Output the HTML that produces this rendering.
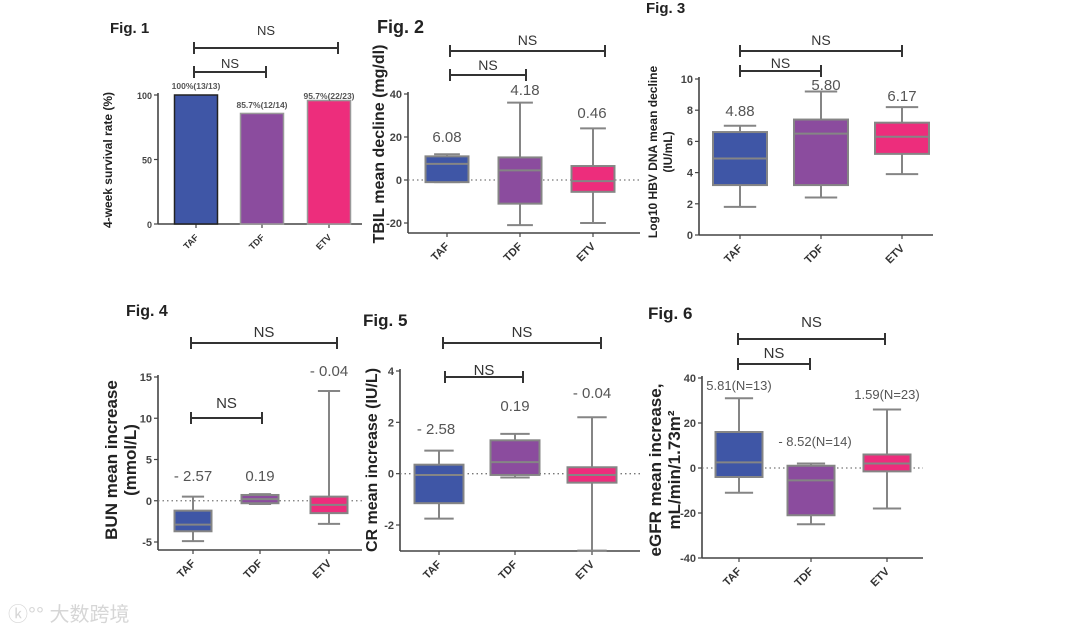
<!DOCTYPE html>
<html><head><meta charset="utf-8"><style>
html,body{margin:0;padding:0;background:#fff;}
svg{display:block;font-family:"Liberation Sans",Arial,sans-serif;}
</style></head><body>
<svg id="chart" width="1080" height="634" viewBox="0 0 1080 634" xmlns="http://www.w3.org/2000/svg">
<text x="8" y="621" font-family="'Liberation Sans','Noto Sans CJK SC',sans-serif" font-size="20" fill="#d6d6d6">ⓚ°° 大数跨境</text>
</svg>
<script>
const cats = ['TAF','TDF','ETV'];
const colors = ['#3f56a6','#8b4c9e','#ed2d7c'];
// Fig 1 bar values
const fig1Values = [100, 85.7, 95.7];
const fig1Labels = ['100%(13/13)','85.7%(12/14)','95.7%(22/23)'];
const fig1Ticks = [0, 50, 100];
// Box plots: [min, q1, median, q3, max]
const fig2Boxes = [[-1,-1,7.5,11,12],[-21,-11,4.5,10.5,36],[-20,-5.5,-0.5,6.5,24]];
const fig2Labels = ['6.08','4.18','0.46'];
const fig2Ticks = [-20,0,20,40];
const fig3Boxes = [[1.8,3.2,4.9,6.6,7.0],[2.4,3.2,6.5,7.4,9.2],[3.9,5.2,6.3,7.2,8.2]];
const fig3Labels = ['4.88','5.80','6.17'];
const fig3Ticks = [0,2,4,6,8,10];
const fig4Boxes = [[-4.9,-3.7,-2.9,-1.2,0.5],[-0.4,-0.3,0.2,0.7,0.8],[-2.8,-1.5,-0.5,0.5,13.3]];
const fig4Labels = ['- 2.57','0.19','- 0.04'];
const fig4Ticks = [-5,0,5,10,15];
const fig5Boxes = [[-1.75,-1.15,-0.05,0.35,0.9],[-0.15,-0.05,0.45,1.3,1.55],[-3,-0.35,-0.05,0.25,2.2]];
const fig5Labels = ['- 2.58','0.19','- 0.04'];
const fig5Ticks = [-2,0,2,4];
const fig6Boxes = [[-11,-4,2.5,16,31],[-25,-21,-5.5,1,2],[-18,-1.5,2,6,26]];
const fig6Labels = ['5.81(N=13)','- 8.52(N=14)','1.59(N=23)'];
const fig6Ticks = [-40,-20,0,20,40];

const svg = document.getElementById('chart');
const NS = 'http://www.w3.org/2000/svg';
function mk(tag, attrs, parent, txt){const e=document.createElementNS(NS,tag);for(const k in attrs)e.setAttribute(k,attrs[k]);if(txt!==undefined)e.textContent=txt;(parent||svg).appendChild(e);return e;}

function panel(cfg){
  const g = mk('g',{});
  
  
  const y = v => cfg.y0 + (v - cfg.vmin) * (cfg.y1 - cfg.y0) / (cfg.vmax - cfg.vmin);
  const x = i => cfg.xs[i];
  const ya = mk('line',{x1:cfg.ax,y1:y(cfg.vmax)-2,x2:cfg.ax,y2:cfg.axY,stroke:'#444','stroke-width':1.6},g);
  
  
  const xa = mk('line',{x1:cfg.ax,y1:cfg.axY,x2:cfg.axEnd,y2:cfg.axY,stroke:'#444','stroke-width':1.6},g);
  
  
  cfg.ticks.forEach(t=>{
    mk('line',{x1:cfg.ax-4,y1:y(t),x2:cfg.ax,y2:y(t),stroke:'#444','stroke-width':1.2},g);
    const tl = mk('text',{x:cfg.ax-6,y:y(t)+4,'text-anchor':'end','font-size':cfg.tfs,'font-weight':'bold',fill:'#444'},g,String(t));
    
    
  });
  cats.forEach((c,i)=>{
    mk('line',{x1:x(i),y1:cfg.axY,x2:x(i),y2:cfg.axY+4,stroke:'#444','stroke-width':1.2},g);
    const cl = mk('text',{x:x(i)+3,y:cfg.axY+14,'text-anchor':'end','font-size':cfg.tfs,'font-weight':'bold',fill:'#333',transform:`rotate(-45 ${x(i)+3} ${cfg.axY+14})`},g,c);
    
    
  });
  if(cfg.zero){
    const z = mk('line',{x1:cfg.ax,y1:y(0),x2:cfg.axEnd,y2:y(0),stroke:'#777','stroke-width':1.3,'stroke-dasharray':'1.5 3'},g);
    
    
  }
  if(cfg.bars){
    cfg.bars.forEach((v,i)=>{
      const r = mk('rect',{x:x(i)-cfg.bw/2,y:y(v),width:cfg.bw,height:y(0)-y(v),fill:colors[i],stroke:i==0?'#222':'#999','stroke-width':1.5},g);
      
      
    });
  }
  if(cfg.boxes){
    cfg.boxes.forEach((b,i)=>{
      const bg = mk('g',{},g);
      
      
      const cx = x(i), hw = cfg.bw/2, cw = cfg.bw*0.3;
      const st = {stroke:'#858585','stroke-width':2};
      mk('line',Object.assign({x1:cx,y1:y(b[0]),x2:cx,y2:y(b[4])},st),bg);
      mk('line',Object.assign({x1:cx-cw,y1:y(b[0]),x2:cx+cw,y2:y(b[0])},st),bg);
      mk('line',Object.assign({x1:cx-cw,y1:y(b[4]),x2:cx+cw,y2:y(b[4])},st),bg);
      mk('rect',Object.assign({x:cx-hw,y:y(b[3]),width:cfg.bw,height:Math.max(1,y(b[1])-y(b[3])),fill:colors[i]},st),bg);
      mk('line',Object.assign({x1:cx-hw,y1:y(b[2]),x2:cx+hw,y2:y(b[2])},st),bg);
    });
  }
  cfg.labels.forEach((l,i)=>{
    const t = mk('text',{x:x(i)+(cfg.lblDx?cfg.lblDx[i]:0),y:cfg.lblY[i],'text-anchor':'middle','font-size':cfg.lfs,'font-weight':cfg.bars?'bold':'normal',fill:'#555'},g,l);
    
    
  });
  cfg.brk.forEach((b,k)=>{
    const bg = mk('g',{},g);
    
    
    mk('line',{x1:b[0],y1:b[2],x2:b[1],y2:b[2],stroke:'#333','stroke-width':2},bg);
    mk('line',{x1:b[0],y1:b[2]-6,x2:b[0],y2:b[2]+6,stroke:'#333','stroke-width':2},bg);
    mk('line',{x1:b[1],y1:b[2]-6,x2:b[1],y2:b[2]+6,stroke:'#333','stroke-width':2},bg);
    mk('text',{x:(b[0]+b[1])/2,y:b[3],'text-anchor':'middle','font-size':cfg.nsfs,fill:'#333'},bg,'NS');
  });
  const ft = mk('text',{x:cfg.fig[0],y:cfg.fig[1],'font-size':cfg.fig[2],'font-weight':'bold',fill:'#222'},g,cfg.fig[3]);
  
  
  cfg.ytitle.forEach((t)=>{
    const yt = mk('text',{x:t[0],y:t[1],'text-anchor':'middle','font-size':t[2],'font-weight':'bold',fill:'#222',transform:`rotate(-90 ${t[0]} ${t[1]})`},g,t[3]);
    
    
  });
}

panel({name:'fig1-survival-chart',vmin:0,vmax:100,y0:224,y1:95,ax:158,axY:224,axEnd:362,xs:[196,262,329],bw:43,ticks:fig1Ticks,tfs:9,
  bars:fig1Values,labels:fig1Labels,lblY:[89,108,99],lfs:8.5,
  brk:[[194,338,48,35],[194,266,72,68]],nsfs:13,fig:[110,33,15,'Fig. 1'],ytitle:[[112,160,12,'4-week survival rate (%)']]});
panel({name:'fig2-tbil-chart',vmin:-20,vmax:40,y0:223,y1:94,ax:408,axY:233,axEnd:640,xs:[447,520,593],bw:43,ticks:fig2Ticks,tfs:11,zero:true,
  boxes:fig2Boxes,labels:fig2Labels,lblY:[142,95,118],lblDx:[0,5,-1],lfs:15,
  brk:[[450,605,51,45],[450,526,75,70]],nsfs:14,fig:[377,33,18,'Fig. 2'],ytitle:[[384,144,16,'TBIL mean decline (mg/dl)']]});
panel({name:'fig3-hbv-dna-chart',vmin:0,vmax:10,y0:235,y1:79,ax:699,axY:235,axEnd:933,xs:[740,821,902],bw:54,ticks:fig3Ticks,tfs:11,
  boxes:fig3Boxes,labels:fig3Labels,lblY:[116,90,101],lblDx:[0,5,0],lfs:15,
  brk:[[740,902,51,45],[740,821,71,68]],nsfs:14,fig:[646,13,15,'Fig. 3'],ytitle:[[657,152,12,'Log10 HBV DNA mean decline'],[672,152,12,'(IU/mL)']]});
panel({name:'fig4-bun-chart',vmin:-5,vmax:15,y0:542,y1:377,ax:158,axY:550,axEnd:362,xs:[193,260,329],bw:37,ticks:fig4Ticks,tfs:11,zero:true,
  boxes:fig4Boxes,labels:fig4Labels,lblY:[481,481,376],lfs:15,
  brk:[[191,337,343,337],[191,262,418,408]],nsfs:15,fig:[126,316,16,'Fig. 4'],ytitle:[[117,460,17,'BUN mean increase'],[136,460,17,'(mmol/L)']]});
panel({name:'fig5-cr-chart',vmin:-2,vmax:4,y0:525,y1:371,ax:400,axY:551,axEnd:640,xs:[439,515,592],bw:49,ticks:fig5Ticks,tfs:11,zero:true,
  boxes:fig5Boxes,labels:fig5Labels,lblY:[434,411,398],lblDx:[-3,0,0],lfs:15,
  brk:[[443,601,343,337],[445,523,377,375]],nsfs:15,fig:[363,326,17,'Fig. 5'],ytitle:[[377,460,16,'CR mean increase (IU/L)']]});
panel({name:'fig6-egfr-chart',vmin:-40,vmax:40,y0:558,y1:378,ax:702,axY:558,axEnd:923,xs:[739,811,887],bw:47,ticks:fig6Ticks,tfs:11,zero:true,
  boxes:fig6Boxes,labels:fig6Labels,lblY:[390,446,399],lblDx:[0,4,0],lfs:13,
  brk:[[738,885,339,327],[738,810,364,358]],nsfs:15,fig:[648,319,17,'Fig. 6'],ytitle:[[661,470,17,'eGFR mean increase,'],[680,470,17,'mL/min/1.73m²']]});
</script>
</body></html>
